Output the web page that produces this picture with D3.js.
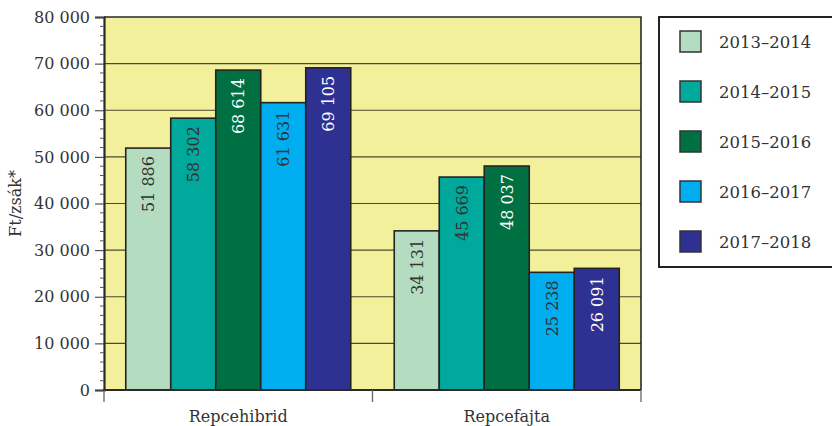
<!DOCTYPE html>
<html>
<head>
<meta charset="utf-8">
<script src="https://cdn.jsdelivr.net/npm/d3@7"></script>
<style>
  html, body { margin: 0; padding: 0; background: #fff; }
  svg { display: block; }
  text { font-family: "DejaVu Serif", serif; fill: #333; }
</style>
</head>
<body>
<svg id="chart" width="832" height="426"></svg>
<script>
// Rapeseed seed price per bag, by season
const categories = ["Repcehibrid", "Repcefajta"];
const seasons = ["2013–2014", "2014–2015", "2015–2016", "2016–2017", "2017–2018"];
const repcehibrid = [51886, 58302, 68614, 61631, 69105];
const repcefajta = [34131, 45669, 48037, 25238, 26091];
const yTicks = [0, 10000, 20000, 30000, 40000, 50000, 60000, 70000, 80000];
const seasonColors = ["#b4dcc1", "#00a99c", "#007043", "#00aeef", "#2e3192"];
const labelColors = ["#333", "#333", "#fff", "#333", "#fff"];
const yTitle = "Ft/zsák*";

const seriesByCategory = [repcehibrid, repcefajta];

const svg = d3.select("#chart");
const plot = { left: 104, right: 641, top: 17, bottom: 390 };

const x0 = d3.scaleBand()
  .domain(categories)
  .range([plot.left, plot.right])
  .paddingInner(0.162)
  .paddingOuter(0.081);

const x1 = d3.scaleBand()
  .domain(seasons)
  .range([0, x0.bandwidth()]);

const y = d3.scaleLinear()
  .domain([0, 80000])
  .range([plot.bottom, plot.top]);

const fmt = v => d3.format(",")(v).replace(/,/g, " ");

// plot background
svg.append("rect")
  .attr("x", plot.left).attr("y", plot.top)
  .attr("width", plot.right - plot.left)
  .attr("height", plot.bottom - plot.top)
  .attr("fill", "#f3f09b");

// horizontal grid lines
svg.append("g")
  .selectAll("line")
  .data(yTicks.slice(1, -1))
  .join("line")
  .attr("x1", plot.left).attr("x2", plot.right)
  .attr("y1", d => y(d)).attr("y2", d => y(d))
  .attr("stroke", "#4a4a32")
  .attr("stroke-width", 1.1);

// bars
const groups = svg.append("g")
  .selectAll("g")
  .data(categories.map((c, i) => ({ cat: c, values: seriesByCategory[i] })))
  .join("g")
  .attr("transform", d => `translate(${x0(d.cat)},0)`);

groups.selectAll("rect")
  .data(d => d.values.map((v, i) => ({ season: seasons[i], v, i })))
  .join("rect")
  .attr("x", d => x1(d.season))
  .attr("y", d => y(d.v))
  .attr("width", x1.bandwidth())
  .attr("height", d => y(0) - y(d.v))
  .attr("fill", d => seasonColors[d.i])
  .attr("stroke", "#232323")
  .attr("stroke-width", 1.6);

// value labels, rotated inside each bar
groups.selectAll("text.val")
  .data(d => d.values.map((v, i) => ({ season: seasons[i], v, i })))
  .join("text")
  .attr("class", "val")
  .attr("transform", d => `translate(${x1(d.season) + x1.bandwidth() / 2},${y(d.v) + 8}) rotate(-90)`)
  .attr("text-anchor", "end")
  .attr("dy", "0.36em")
  .style("font-size", "16px")
  .style("fill", d => labelColors[d.i])
  .text(d => fmt(d.v));

// plot frame (top and right)
svg.append("path")
  .attr("d", `M${plot.left},${plot.top}H${plot.right}V${plot.bottom}`)
  .attr("fill", "none")
  .attr("stroke", "#2a2a2a")
  .attr("stroke-width", 1.6);

// y axis
const yAxis = d3.axisLeft(y)
  .tickValues(yTicks)
  .tickFormat(fmt)
  .tickSize(9)
  .tickPadding(5);

const yg = svg.append("g")
  .attr("transform", `translate(${plot.left},0)`)
  .call(yAxis);
yg.select(".domain").attr("stroke", "#2a2a2a").attr("stroke-width", 2.2);
yg.selectAll(".tick line").attr("stroke", "#444").attr("stroke-width", 1.1);
yg.selectAll(".tick text")
  .style("font-size", "16px")
  .style("font-family", "DejaVu Serif, serif")
  .attr("fill", "#333");

// minor ticks every 2000
svg.append("g")
  .selectAll("line")
  .data(d3.range(0, 80001, 2000).filter(v => v % 10000 !== 0))
  .join("line")
  .attr("x1", plot.left - 4).attr("x2", plot.left)
  .attr("y1", d => y(d)).attr("y2", d => y(d))
  .attr("stroke", "#555")
  .attr("stroke-width", 1);

// x axis baseline and category separators
svg.append("line")
  .attr("x1", plot.left - 1).attr("x2", plot.right)
  .attr("y1", plot.bottom).attr("y2", plot.bottom)
  .attr("stroke", "#2a2a2a").attr("stroke-width", 2.2);

const sepX = [plot.left, x0(categories[1]) - x0.step() * x0.paddingInner() / 2, plot.right];
svg.append("g")
  .selectAll("line")
  .data(sepX)
  .join("line")
  .attr("x1", d => d).attr("x2", d => d)
  .attr("y1", plot.bottom).attr("y2", plot.bottom + 12)
  .attr("stroke", "#666").attr("stroke-width", 1.3);

// category labels
svg.append("g")
  .selectAll("text")
  .data(categories)
  .join("text")
  .attr("x", d => x0(d) + x0.bandwidth() / 2)
  .attr("y", 422)
  .attr("text-anchor", "middle")
  .style("font-size", "16px")
  .text(d => d);

// y axis title
svg.append("text")
  .attr("transform", `translate(21,${(plot.top + plot.bottom) / 2}) rotate(-90)`)
  .attr("text-anchor", "middle")
  .style("font-size", "16px")
  .text(yTitle);

// legend
const legend = svg.append("g");
legend.append("rect")
  .attr("x", 659).attr("y", 17)
  .attr("width", 180).attr("height", 250)
  .attr("fill", "#fff")
  .attr("stroke", "#222")
  .attr("stroke-width", 2);

const items = legend.selectAll("g")
  .data(seasons)
  .join("g")
  .attr("transform", (d, i) => `translate(680,${31 + i * 50})`);

items.append("rect")
  .attr("width", 21).attr("height", 21)
  .attr("fill", (d, i) => seasonColors[i])
  .attr("stroke", "#333")
  .attr("stroke-width", 1.5);

items.append("text")
  .attr("x", 39).attr("y", 11)
  .attr("dy", "0.36em")
  .style("font-size", "16.5px")
  .text(d => d);
</script>
</body>
</html>
